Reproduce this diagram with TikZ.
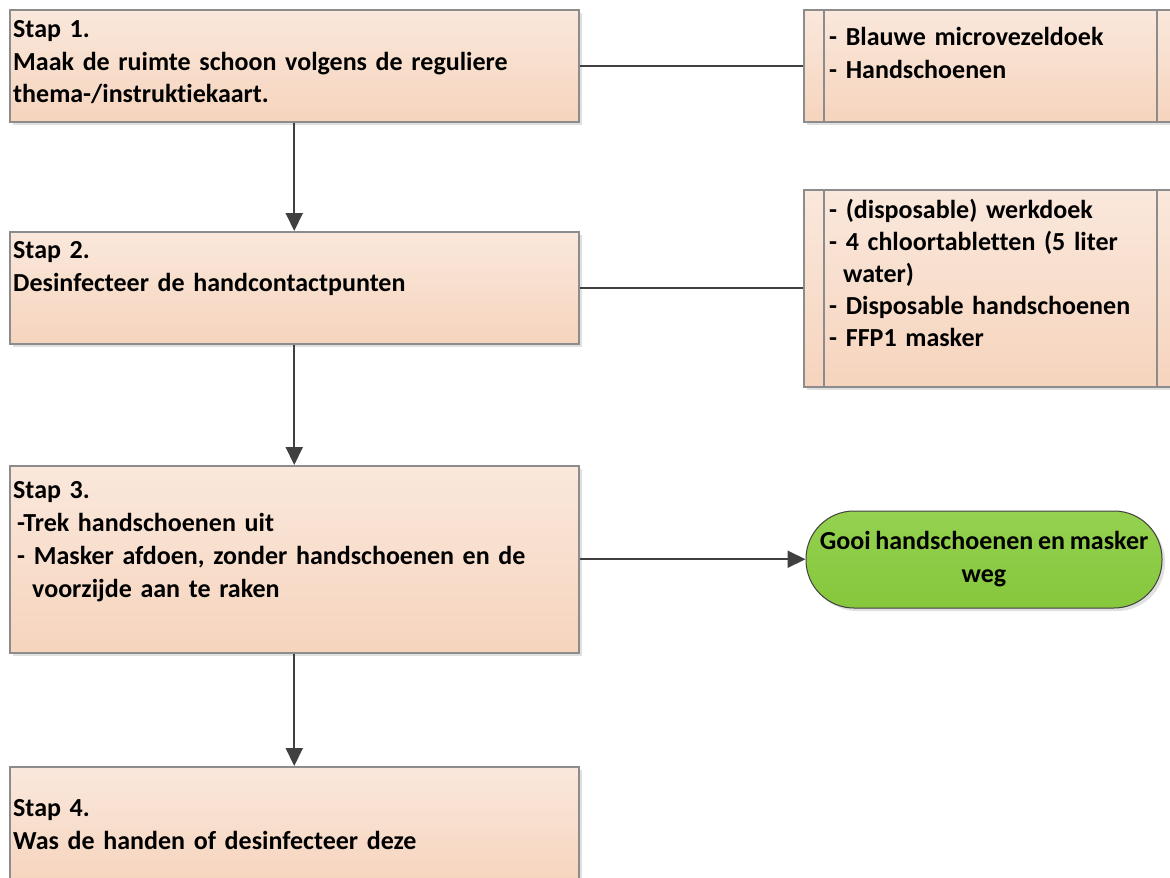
\documentclass[tikz,border=0pt]{standalone}
\usepackage{fontspec}
\setmainfont{Carlito}[RawFeature=-liga, WordSpace=0.8]
\usetikzlibrary{arrows.meta,shadows}
\definecolor{peachtop}{HTML}{FAE8DC}
\definecolor{peachbot}{HTML}{F6D4BD}
\definecolor{boxline}{HTML}{8C8C8C}
\definecolor{conn}{HTML}{404040}
\definecolor{greentop}{HTML}{94D150}
\definecolor{greenbot}{HTML}{86C73C}
\tikzset{
  stepbox/.style={draw=boxline, line width=1.5pt, top color=peachtop, bottom color=peachbot,
    drop shadow={shadow xshift=3.5pt, shadow yshift=-3.5pt, fill=black, opacity=0.12},
    inner sep=0pt, anchor=north west},
  resbox/.style={stepbox},
  txt/.style={font=\fontsize{26}{33}\selectfont\bfseries, inner sep=0pt, anchor=base west,
    text width=#1, align=left},
  txt/.default=560pt,
  endbox/.style={draw=conn, line width=1pt, top color=greentop, bottom color=greenbot,
    rounded corners=48pt, minimum width=356pt, minimum height=97pt, inner sep=0pt,
    font=\fontsize{26}{33}\selectfont\bfseries, align=center,
    drop shadow={shadow xshift=3pt, shadow yshift=-3pt, fill=black, opacity=0.12}},
  conline/.style={draw=conn, line width=2pt},
  conarrow/.style={conline, -{Triangle[length=18pt,width=17pt]}}
}
\begin{document}
\begin{tikzpicture}[x=1pt,y=-1pt]
\useasboundingbox (0,0) rectangle (1170,878);
\clip (0,0) rectangle (1170,878);
% step boxes
\node[stepbox, minimum width=569pt, minimum height=112pt] (s1) at (9,9) {};
\node[stepbox, minimum width=569pt, minimum height=112pt] (s2) at (9,231) {};
\node[stepbox, minimum width=569pt, minimum height=187pt] (s3) at (9,465) {};
\node[stepbox, minimum width=569pt, minimum height=118pt] (s4) at (9,766) {};
% resource boxes
\node[resbox, minimum width=400pt, minimum height=112pt] (r1) at (803,9) {};
\node[resbox, minimum width=400pt, minimum height=197pt] (r2) at (803,189) {};
\coordinate (r1a) at (824,9); \coordinate (r1b) at (824,121);
\coordinate (r1c) at (1157,9); \coordinate (r1d) at (1157,121);
\coordinate (r2a) at (824,189); \coordinate (r2b) at (824,386);
\coordinate (r2c) at (1157,189); \coordinate (r2d) at (1157,386);
\draw[draw=boxline, line width=1.5pt] (r1a) -- (r1b) (r1c) -- (r1d) (r2a) -- (r2b) (r2c) -- (r2d);
% end node
\node[endbox] (g) at (984,559.5) {Gooi handschoenen en masker\\weg};
% texts
\node[txt] (t1) at (13,37) {Stap 1.\\Maak de ruimte schoon volgens de reguliere\\thema-/instruktiekaart.};
\node[txt] (t2) at (13,258) {Stap 2.\\Desinfecteer de handcontactpunten};
\node[txt] (t3) at (13,498) {Stap 3.\\\hspace*{4pt}-Trek handschoenen uit\\\hspace*{4pt}- Masker afdoen, zonder handschoenen en de\\\hspace*{19pt}voorzijde aan te raken};
\node[txt] (t4) at (13,816) {Stap 4.\\Was de handen of desinfecteer deze};
\node[txt=330pt] (q1) at (829,45) {- Blauwe microvezeldoek\\- Handschoenen};
\node[txt=330pt, font=\fontsize{26}{32}\selectfont\bfseries] (q2) at (829,218) {- (disposable) werkdoek\\- 4 chloortabletten (5 liter\\\hspace*{14pt}water)\\- Disposable handschoenen\\- FFP1 masker};
% connectors
\draw[conarrow] (s1.south) -- (s2.north);
\draw[conarrow] (s2.south) -- (s3.north);
\draw[conarrow] (s3.south) -- (s4.north);
\draw[conline] (s1.east) -- (s1.east -| r1.west);
\draw[conline] (s2.east) -- (s2.east -| r2.west);
\draw[conarrow] (s3.east) -- (s3.east -| g.west);
\end{tikzpicture}
\end{document}
